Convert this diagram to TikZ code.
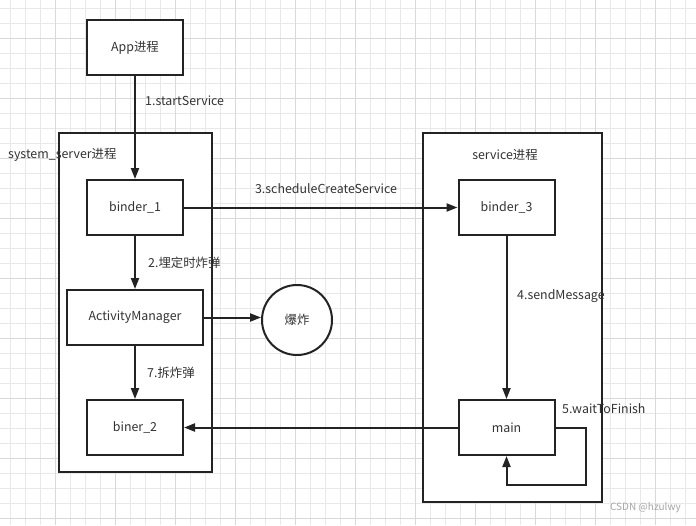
\documentclass[tikz,border=0pt]{standalone}
\usepackage{fontspec}
\setmainfont{Noto Sans CJK SC}
\usetikzlibrary{arrows.meta}

\definecolor{ink}{HTML}{232323}
\definecolor{txt}{HTML}{333333}
\definecolor{gridminor}{HTML}{E8E8E8}
\definecolor{gridmajor}{HTML}{D9D9D9}

\tikzset{
  proc/.style={draw=ink,line width=2pt,fill=white,minimum width=96pt,minimum height=55pt,text=txt},
  procbox/.style={draw=ink,line width=2pt,fill=white,minimum width=#1,minimum height=55pt,text=txt},
  group/.style={draw=ink,line width=2pt,fill=white,inner sep=0pt},
  lbl/.style={text=txt,inner sep=0pt},
  flow/.style={->,draw=ink,line width=2pt}
}

\begin{document}
\begin{tikzpicture}[x=1pt,y=-1pt,>={Triangle[length=11pt,width=8pt]},font=\fontsize{12.4pt}{14pt}\selectfont]
\useasboundingbox[fill=white] (0,0) rectangle (696,525);
% grid
\foreach \i in {0,...,45}{ \draw[gridminor,line width=1pt] (10+15*\i,0) -- (10+15*\i,525); }
\foreach \j in {0,...,34}{ \draw[gridminor,line width=1pt] (0,8.3+15*\j) -- (696,8.3+15*\j); }
\foreach \i in {0,...,10}{ \draw[gridmajor,line width=1pt] (55+60*\i,0) -- (55+60*\i,525); }
\foreach \j in {0,...,8}{ \draw[gridmajor,line width=1pt] (0,38.3+60*\j) -- (696,38.3+60*\j); }

% process groups
\node[group,minimum width=153pt,minimum height=339pt] (sysgrp) at (135.5,302.5) {};
\node[group,minimum width=179pt,minimum height=369pt] (svcgrp) at (512.5,317.5) {};
\node[lbl,anchor=west] (syslbl) at (8,155) {system\_server进程};
\node[lbl] (svclbl) at (505,155) {service进程};

% boxes
\node[proc] (app) at (135,47.5) {App进程};
\node[proc] (binder1) at (135,207.5) {binder\_1};
\node[procbox=136pt] (am) at (135,317.5) {ActivityManager};
\node[proc] (biner2) at (135,427.5) {biner\_2};
\node[proc] (binder3) at (506.5,207.5) {binder\_3};
\node[proc] (main) at (506.5,427.5) {main};
\node[circle,draw=ink,line width=2pt,fill=white,minimum size=70pt,text=txt] (boom) at (297,320) {爆炸};

% connectors
\draw[flow] (app) -- (binder1);
\draw[flow] (binder1) -- (am);
\draw[flow] (am) -- (biner2);
\draw[flow] (am.east) -- (am.east -| boom.west);
\draw[flow] (binder1) -- (binder3);
\draw[flow] (binder3) -- (main);
\draw[flow] (main) -- (biner2);
\draw[flow] (main.east) -| ++(30,57) -| (main.south);

% labels
\node[lbl,anchor=west] (l1) at (145,101) {1.startService};
\node[lbl,anchor=west] (l2) at (148,263) {2.埋定时炸弹};
\node[lbl] (l3) at (326,189) {3.scheduleCreateService};
\node[lbl,anchor=west] (l4) at (517,296) {4.sendMessage};
\node[lbl,anchor=west] (l5) at (562,409) {5.waitToFinish};
\node[lbl,anchor=west] (l7) at (147,373) {7.拆炸弹};
\node[lbl,anchor=east,text=gray!70,font=\fontsize{10pt}{12pt}\selectfont] (mark) at (681,508) {CSDN @hzulwy};
\end{tikzpicture}
\end{document}
